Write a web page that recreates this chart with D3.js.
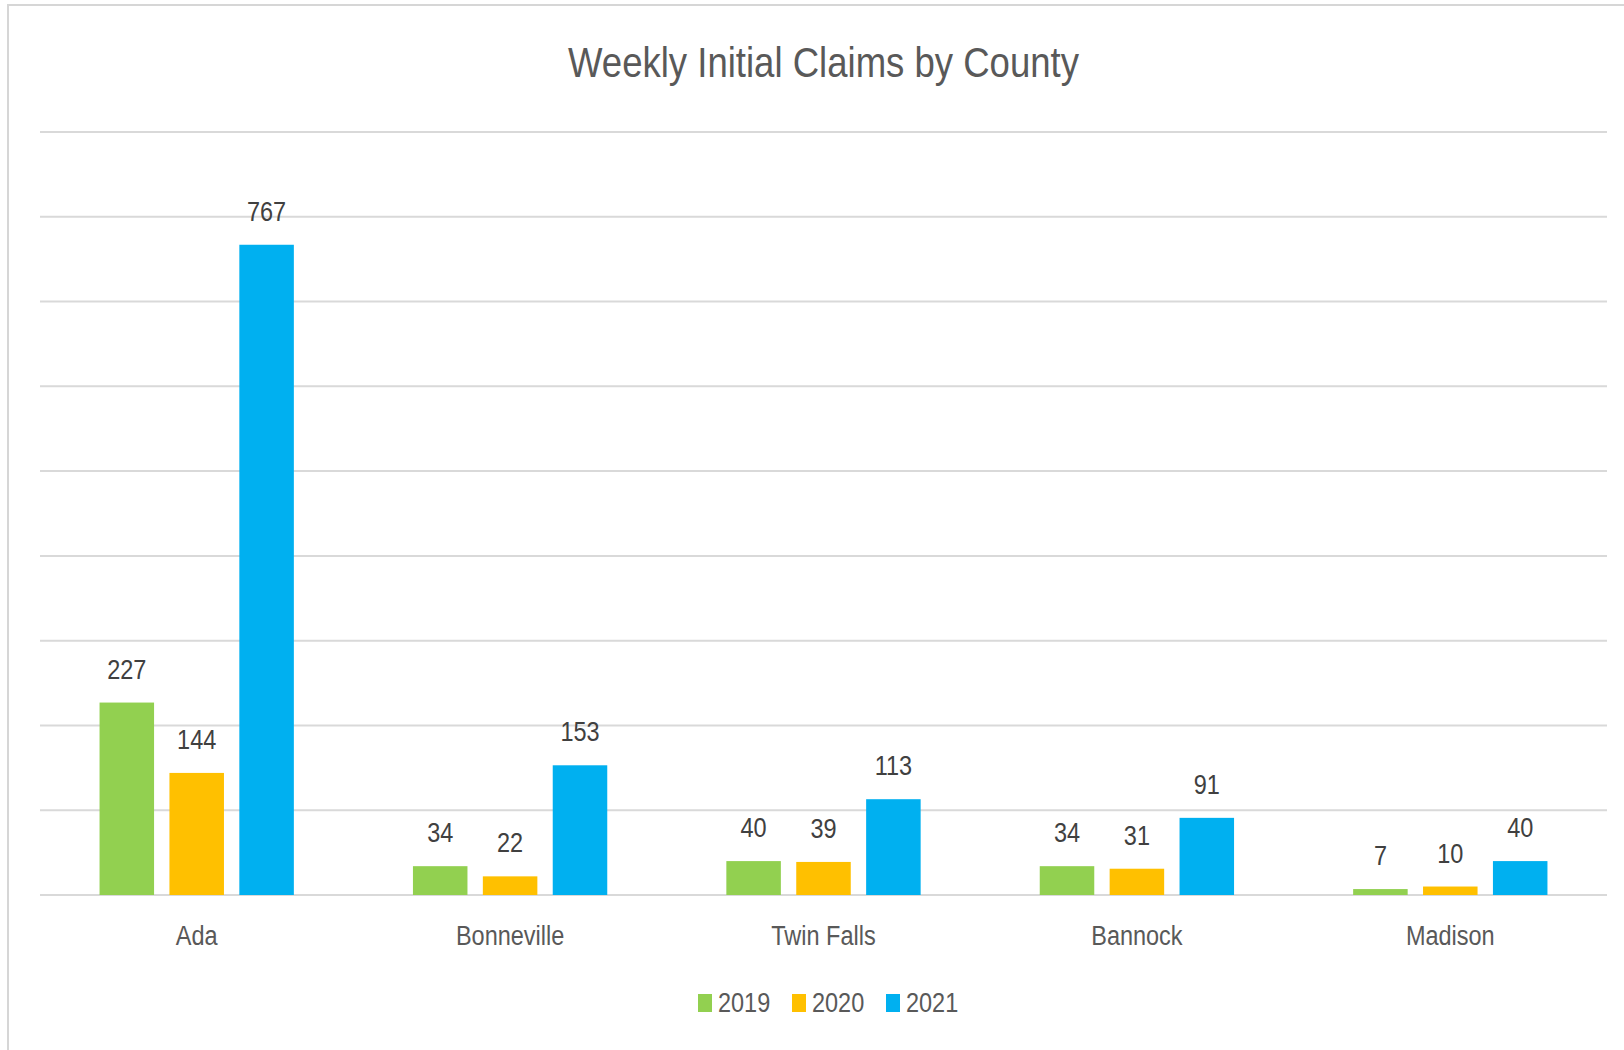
<!DOCTYPE html>
<html>
<head>
<meta charset="utf-8">
<script src="https://cdn.jsdelivr.net/npm/d3@7"></script>
<style>
  body { margin: 0; background: #fff; }
  text { font-family: "Liberation Sans Narrow", "Liberation Sans", Arial, sans-serif; }
</style>
</head>
<body>
<svg id="chart" width="1624" height="1050"></svg>
<script>
const counties = ["Ada", "Bonneville", "Twin Falls", "Bannock", "Madison"];
const years = ["2019", "2020", "2021"];
const claims2019 = [227, 34, 40, 34, 7];
const claims2020 = [144, 22, 39, 31, 10];
const claims2021 = [767, 153, 113, 91, 40];
const yTicks = [0, 100, 200, 300, 400, 500, 600, 700, 800, 900];
const colors = ["#92D050", "#FFC000", "#00B0F0"];

const seriesValues = [claims2019, claims2020, claims2021];
const rows = counties.map((c, i) => ({
  county: c,
  values: years.map((y, j) => ({ year: y, value: seriesValues[j][i] }))
}));

const width = 1624, height = 1050;
const margins = { top: 132, right: 17, bottom: 155, left: 40 };
const squeeze = 0.87; // the original font is narrower than what is installed

const svg = d3.select("#chart");

// outer frame (only top and left edges show in the picture)
svg.append("rect")
  .attr("x", 8).attr("y", 5)
  .attr("width", width + 20).attr("height", height + 20)
  .attr("fill", "none")
  .attr("stroke", "#d6d6d6")
  .attr("stroke-width", 2);

const x0 = d3.scaleBand()
  .domain(counties)
  .range([margins.left, width - margins.right])
  .paddingInner(0.38)
  .paddingOuter(0.19);

const x1 = d3.scaleBand()
  .domain(years)
  .range([0, x0.bandwidth()])
  .paddingInner(0.22)
  .paddingOuter(0);

const y = d3.scaleLinear()
  .domain([0, 900])
  .range([height - margins.bottom, margins.top]);

const color = d3.scaleOrdinal().domain(years).range(colors);

// gridlines
svg.append("g")
  .selectAll("line")
  .data(yTicks)
  .join("line")
  .attr("x1", margins.left)
  .attr("x2", width - margins.right)
  .attr("y1", d => y(d))
  .attr("y2", d => y(d))
  .attr("stroke", "#d9d9d9")
  .attr("stroke-width", 2);

// title, centred over the plot
const plotMid = (margins.left + width - margins.right) / 2;
svg.append("text")
  .attr("transform", `translate(${plotMid},77) scale(${squeeze},1)`)
  .attr("text-anchor", "middle")
  .attr("fill", "#595959")
  .attr("font-size", 42)
  .text("Weekly Initial Claims by County");

const groups = svg.append("g")
  .selectAll("g")
  .data(rows)
  .join("g")
  .attr("transform", d => `translate(${x0(d.county)},0)`);

groups.selectAll("rect")
  .data(d => d.values)
  .join("rect")
  .attr("x", d => x1(d.year))
  .attr("y", d => y(d.value))
  .attr("width", x1.bandwidth())
  .attr("height", d => y(0) - y(d.value))
  .attr("fill", d => color(d.year));

groups.selectAll("text")
  .data(d => d.values)
  .join("text")
  .attr("transform", d => `translate(${x1(d.year) + x1.bandwidth() / 2},${y(d.value) - 24}) scale(${squeeze},1)`)
  .attr("text-anchor", "middle")
  .attr("fill", "#404040")
  .attr("font-size", 27)
  .text(d => d.value);

// category axis labels
const xAxis = d3.axisBottom(x0).tickSize(0).tickPadding(0);
const axisG = svg.append("g")
  .attr("transform", `translate(0,${y(0)})`)
  .call(xAxis);
axisG.select(".domain").remove();
axisG.selectAll("text")
  .attr("dy", 0)
  .attr("y", 0)
  .attr("transform", `translate(0,50) scale(${squeeze},1)`)
  .attr("fill", "#595959")
  .attr("font-size", 27);

// legend
const legend = svg.append("g")
  .selectAll("g")
  .data(years)
  .join("g")
  .attr("transform", (d, i) => `translate(${698 + i * 94},0)`);

legend.append("rect")
  .attr("x", 0).attr("y", 994)
  .attr("width", 14).attr("height", 18)
  .attr("fill", d => color(d));

legend.append("text")
  .attr("transform", `translate(20,1012) scale(${squeeze},1)`)
  .attr("fill", "#595959")
  .attr("font-size", 27)
  .text(d => d);
</script>
</body>
</html>
